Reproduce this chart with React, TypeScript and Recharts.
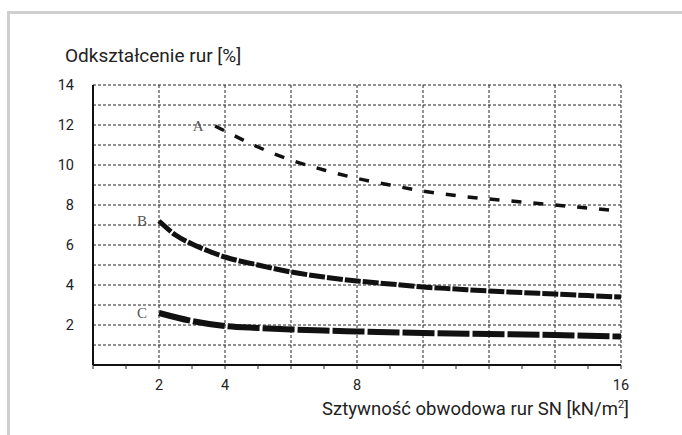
import { LineChart, Line, XAxis, YAxis, CartesianGrid } from "recharts";

// SN stiffness [kN/m2] and pipe deformation [%] for the three curves
const snA = [3.7, 4, 5, 6, 7, 8, 9, 10, 11, 12, 13, 14, 15, 16];
const defA = [11.95, 11.7, 10.9, 10.25, 9.75, 9.33, 9.0, 8.7, 8.47, 8.3, 8.15, 8.0, 7.85, 7.7];

const snB = [2, 2.5, 3, 3.5, 4, 5, 6, 7, 8, 9, 10, 11, 12, 13, 14, 15, 16];
const defB = [7.2, 6.5, 6.05, 5.7, 5.4, 5.0, 4.65, 4.4, 4.2, 4.05, 3.9, 3.8, 3.7, 3.62, 3.55, 3.47, 3.4];

const snC = [2, 3, 4, 5, 6, 7, 8, 10, 12, 14, 16];
const defC = [2.6, 2.2, 1.95, 1.85, 1.78, 1.72, 1.68, 1.6, 1.55, 1.5, 1.42];

const xTicks = [0, 1, 2, 3, 4, 5, 6, 7, 8, 9, 10, 11, 12, 13, 14, 15, 16];
const xLabels = [2, 4, 8, 16];
const xGrid = [0, 2, 4, 6, 8, 10, 12, 14, 16];
const yTicks = [0, 1, 2, 3, 4, 5, 6, 7, 8, 9, 10, 11, 12, 13, 14];
const yLabels = [2, 4, 6, 8, 10, 12, 14];

const toRows = (xs: number[], ys: number[]) => xs.map((sn, i) => ({ sn, v: ys[i] }));
const dataA = toRows(snA, defA);
const dataB = toRows(snB, defB);
const dataC = toRows(snC, defC);

const FONT = "Roboto, 'Noto Sans', sans-serif";

const curveLabel = (name: string) => (props: any) => {
  const { x, y, index } = props;
  if (index !== 0) return null;
  return (
    <text x={x - 17} y={y + 5} textAnchor="middle" fontFamily="'Liberation Serif', serif" fontSize={15} fill="#555">
      {name}
    </text>
  );
};

const XTick = (props: any) => {
  const { x, y, payload } = props;
  if (!xLabels.includes(payload.value)) return <g />;
  return (
    <text x={x} y={y} dy={19} textAnchor="middle" fontFamily={FONT} fontSize={14.5} fill="#222">
      {payload.value}
    </text>
  );
};

const YTick = (props: any) => {
  const { x, y, payload } = props;
  if (!yLabels.includes(payload.value)) return <g />;
  return (
    <text x={x} y={y} dy={5} textAnchor="end" fontFamily={FONT} fontSize={14.5} fill="#222">
      {payload.value}
    </text>
  );
};

export default function App() {
  return (
    <div style={{ position: "absolute", left: 0, top: 0, width: 682, height: 435, overflow: "hidden", background: "#fff" }}>
      <div
        style={{
          position: "absolute",
          left: 7,
          top: 11,
          width: 720,
          height: 480,
          borderTop: "3px solid #cfcfcf",
          borderLeft: "3px solid #cfcfcf",
        }}
      />
      <div style={{ position: "absolute", left: 0, top: 0 }}>
        <LineChart width={682} height={435} margin={{ top: 85, right: 61, bottom: 40, left: 53 }}>
          <CartesianGrid stroke="#222" strokeDasharray="3 2" strokeWidth={1} verticalValues={xGrid} />
          <XAxis
            type="number"
            dataKey="sn"
            domain={[0, 16]}
            ticks={xTicks}
            interval={0}
            tick={<XTick />}
            tickSize={4}
            tickLine={{ stroke: "#222" }}
            axisLine={{ stroke: "#111", strokeWidth: 2 }}
            height={30}
            allowDuplicatedCategory={false}
          />
          <YAxis
            type="number"
            domain={[0, 14]}
            ticks={yTicks}
            interval={0}
            tick={<YTick />}
            tickLine={false}
            axisLine={{ stroke: "#111", strokeWidth: 2 }}
            width={40}
            tickMargin={13}
          />
          <Line
            data={dataA}
            dataKey="v"
            type="monotone"
            stroke="#111"
            strokeWidth={3.5}
            strokeDasharray="10 12"
            dot={false}
            label={curveLabel("A")}
            isAnimationActive={false}
          />
          <Line
            data={dataB}
            dataKey="v"
            type="monotone"
            stroke="#111"
            strokeWidth={5}
            strokeDasharray="16 2"
            dot={false}
            label={curveLabel("B")}
            isAnimationActive={false}
          />
          <Line
            data={dataC}
            dataKey="v"
            type="monotone"
            stroke="#111"
            strokeWidth={6}
            strokeDasharray="32 3"
            dot={false}
            label={curveLabel("C")}
            isAnimationActive={false}
          />
        </LineChart>
      </div>
      <svg width={682} height={435} style={{ position: "absolute", left: 0, top: 0, pointerEvents: "none" }}>
        <text x={65} y={62} fontFamily={FONT} fontSize={19} fill="#222">
          Odkształcenie rur [%]
        </text>
        <text x={629} y={415} textAnchor="end" fontFamily={FONT} fontSize={18.5} fill="#222">
          Sztywność obwodowa rur SN [kN/m
          <tspan fontSize={11} dy={-7}>2</tspan>
          <tspan dy={7}>]</tspan>
        </text>
      </svg>
    </div>
  );
}
